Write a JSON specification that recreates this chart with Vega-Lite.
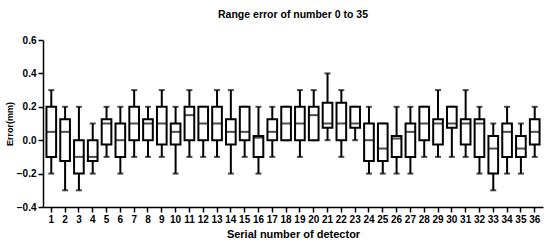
{
  "$schema": "https://vega.github.io/schema/vega-lite/v6.json",
  "autosize": "none",
  "width": 500,
  "height": 167,
  "padding": {"left": 43, "top": 40, "right": 7, "bottom": 42},
  "background": "white",
  "title": {"text": "Range error of number 0 to 35", "fontSize": 10.5, "font": "Liberation Sans", "fontWeight": "bold", "color": "black", "anchor": "middle", "offset": 15},
  "data": {"values": [
    {"det": 1, "min": -0.2, "q1": -0.1, "median": 0.05, "q3": 0.2, "max": 0.3},
    {"det": 2, "min": -0.3, "q1": -0.125, "median": 0.05, "q3": 0.125, "max": 0.2},
    {"det": 3, "min": -0.3, "q1": -0.2, "median": -0.1, "q3": 0.0, "max": 0.2},
    {"det": 4, "min": -0.2, "q1": -0.125, "median": -0.1, "q3": 0.0, "max": 0.1},
    {"det": 5, "min": -0.1, "q1": -0.025, "median": 0.1, "q3": 0.125, "max": 0.2},
    {"det": 6, "min": -0.2, "q1": -0.1, "median": 0.0, "q3": 0.1, "max": 0.2},
    {"det": 7, "min": -0.1, "q1": 0.0, "median": 0.1, "q3": 0.2, "max": 0.3},
    {"det": 8, "min": -0.1, "q1": 0.0, "median": 0.1, "q3": 0.125, "max": 0.2},
    {"det": 9, "min": -0.1, "q1": -0.025, "median": 0.1, "q3": 0.2, "max": 0.3},
    {"det": 10, "min": -0.2, "q1": -0.025, "median": 0.05, "q3": 0.1, "max": 0.2},
    {"det": 11, "min": -0.1, "q1": 0.0, "median": 0.15, "q3": 0.2, "max": 0.3},
    {"det": 12, "min": -0.1, "q1": 0.0, "median": 0.1, "q3": 0.2, "max": 0.2},
    {"det": 13, "min": -0.1, "q1": 0.0, "median": 0.1, "q3": 0.2, "max": 0.3},
    {"det": 14, "min": -0.2, "q1": -0.025, "median": 0.05, "q3": 0.125, "max": 0.3},
    {"det": 15, "min": -0.1, "q1": 0.0, "median": 0.05, "q3": 0.2, "max": 0.2},
    {"det": 16, "min": -0.2, "q1": -0.1, "median": 0.015, "q3": 0.025, "max": 0.2},
    {"det": 17, "min": -0.1, "q1": 0.0, "median": 0.05, "q3": 0.125, "max": 0.2},
    {"det": 18, "min": 0.0, "q1": 0.0, "median": 0.1, "q3": 0.2, "max": 0.2},
    {"det": 19, "min": -0.1, "q1": 0.0, "median": 0.1, "q3": 0.2, "max": 0.3},
    {"det": 20, "min": 0.0, "q1": 0.0, "median": 0.15, "q3": 0.2, "max": 0.3},
    {"det": 21, "min": 0.0, "q1": 0.075, "median": 0.1, "q3": 0.225, "max": 0.4},
    {"det": 22, "min": -0.1, "q1": 0.0, "median": 0.1, "q3": 0.225, "max": 0.3},
    {"det": 23, "min": 0.0, "q1": 0.075, "median": 0.1, "q3": 0.2, "max": 0.2},
    {"det": 24, "min": -0.2, "q1": -0.125, "median": 0.0, "q3": 0.1, "max": 0.2},
    {"det": 25, "min": -0.2, "q1": -0.125, "median": -0.05, "q3": 0.1, "max": 0.1},
    {"det": 26, "min": -0.2, "q1": -0.1, "median": 0.01, "q3": 0.025, "max": 0.2},
    {"det": 27, "min": -0.2, "q1": -0.1, "median": 0.05, "q3": 0.1, "max": 0.2},
    {"det": 28, "min": -0.1, "q1": 0.0, "median": 0.1, "q3": 0.2, "max": 0.2},
    {"det": 29, "min": -0.1, "q1": -0.025, "median": 0.1, "q3": 0.125, "max": 0.3},
    {"det": 30, "min": -0.1, "q1": 0.075, "median": 0.1, "q3": 0.2, "max": 0.2},
    {"det": 31, "min": -0.1, "q1": -0.025, "median": 0.1, "q3": 0.125, "max": 0.3},
    {"det": 32, "min": -0.2, "q1": -0.1, "median": 0.1, "q3": 0.125, "max": 0.2},
    {"det": 33, "min": -0.3, "q1": -0.2, "median": -0.05, "q3": 0.025, "max": 0.1},
    {"det": 34, "min": -0.2, "q1": -0.1, "median": 0.05, "q3": 0.1, "max": 0.2},
    {"det": 35, "min": -0.2, "q1": -0.1, "median": -0.05, "q3": 0.025, "max": 0.1},
    {"det": 36, "min": -0.1, "q1": -0.025, "median": 0.05, "q3": 0.125, "max": 0.2}
  ]},
  "encoding": {
    "x": {
      "field": "det", "type": "ordinal",
      "scale": {"paddingInner": 0.3, "paddingOuter": 0.25},
      "axis": {"title": "Serial number of detector", "labelAngle": 0, "titleFontSize": 11, "titlePadding": 4, "labelFontSize": 10, "labelPadding": 2}
    }
  },
  "layer": [
    {
      "mark": {"type": "rule", "color": "black", "strokeWidth": 2},
      "encoding": {
        "y": {"field": "min", "type": "quantitative", "scale": {"domain": [-0.4, 0.6], "nice": false},
          "axis": {"title": "Error(mm)", "values": [-0.4, -0.2, 0, 0.2, 0.4, 0.6], "format": ".1f", "labelOverlap": false, "titleFontSize": 9, "labelFontSize": 10, "titlePadding": 2, "labelPadding": 2}},
        "y2": {"field": "max"}
      }
    },
    {
      "mark": {"type": "tick", "color": "black", "size": 6, "thickness": 2},
      "encoding": {"y": {"field": "min", "type": "quantitative", "scale": {"domain": [-0.4, 0.6], "nice": false},
          "axis": {"title": "Error(mm)", "values": [-0.4, -0.2, 0, 0.2, 0.4, 0.6], "format": ".1f", "labelOverlap": false, "titleFontSize": 9, "labelFontSize": 10, "titlePadding": 2, "labelPadding": 2}}}
    },
    {
      "mark": {"type": "tick", "color": "black", "size": 6, "thickness": 2},
      "encoding": {"y": {"field": "max", "type": "quantitative", "scale": {"domain": [-0.4, 0.6], "nice": false},
          "axis": {"title": "Error(mm)", "values": [-0.4, -0.2, 0, 0.2, 0.4, 0.6], "format": ".1f", "labelOverlap": false, "titleFontSize": 9, "labelFontSize": 10, "titlePadding": 2, "labelPadding": 2}}}
    },
    {
      "mark": {"type": "bar", "fill": "white", "stroke": "black", "strokeWidth": 2},
      "encoding": {
        "y": {"field": "q1", "type": "quantitative", "scale": {"domain": [-0.4, 0.6], "nice": false},
          "axis": {"title": "Error(mm)", "values": [-0.4, -0.2, 0, 0.2, 0.4, 0.6], "format": ".1f", "labelOverlap": false, "titleFontSize": 9, "labelFontSize": 10, "titlePadding": 2, "labelPadding": 2}},
        "y2": {"field": "q3"}
      }
    },
    {
      "mark": {"type": "rule", "color": "#888888", "strokeWidth": 1},
      "encoding": {"y": {"datum": 0, "type": "quantitative", "scale": {"domain": [-0.4, 0.6], "nice": false},
          "axis": {"title": "Error(mm)", "values": [-0.4, -0.2, 0, 0.2, 0.4, 0.6], "format": ".1f", "labelOverlap": false, "titleFontSize": 9, "labelFontSize": 10, "titlePadding": 2, "labelPadding": 2}}}
    },
    {
      "mark": {"type": "tick", "color": "black", "size": 10, "thickness": 2},
      "encoding": {"y": {"field": "median", "type": "quantitative", "scale": {"domain": [-0.4, 0.6], "nice": false},
          "axis": {"title": "Error(mm)", "values": [-0.4, -0.2, 0, 0.2, 0.4, 0.6], "format": ".1f", "labelOverlap": false, "titleFontSize": 9, "labelFontSize": 10, "titlePadding": 2, "labelPadding": 2}}}
    }
  ],
  "config": {
    "font": "Liberation Sans",
    "view": {"stroke": null},
    "axis": {
      "grid": false,
      "domainColor": "black", "domainWidth": 1.5,
      "tickColor": "black", "tickWidth": 1.5, "tickSize": 5,
      "labelColor": "black", "labelFontWeight": "bold", "labelFont": "Liberation Sans",
      "titleColor": "black", "titleFontWeight": "bold", "titleFont": "Liberation Sans"
    }
  }
}
